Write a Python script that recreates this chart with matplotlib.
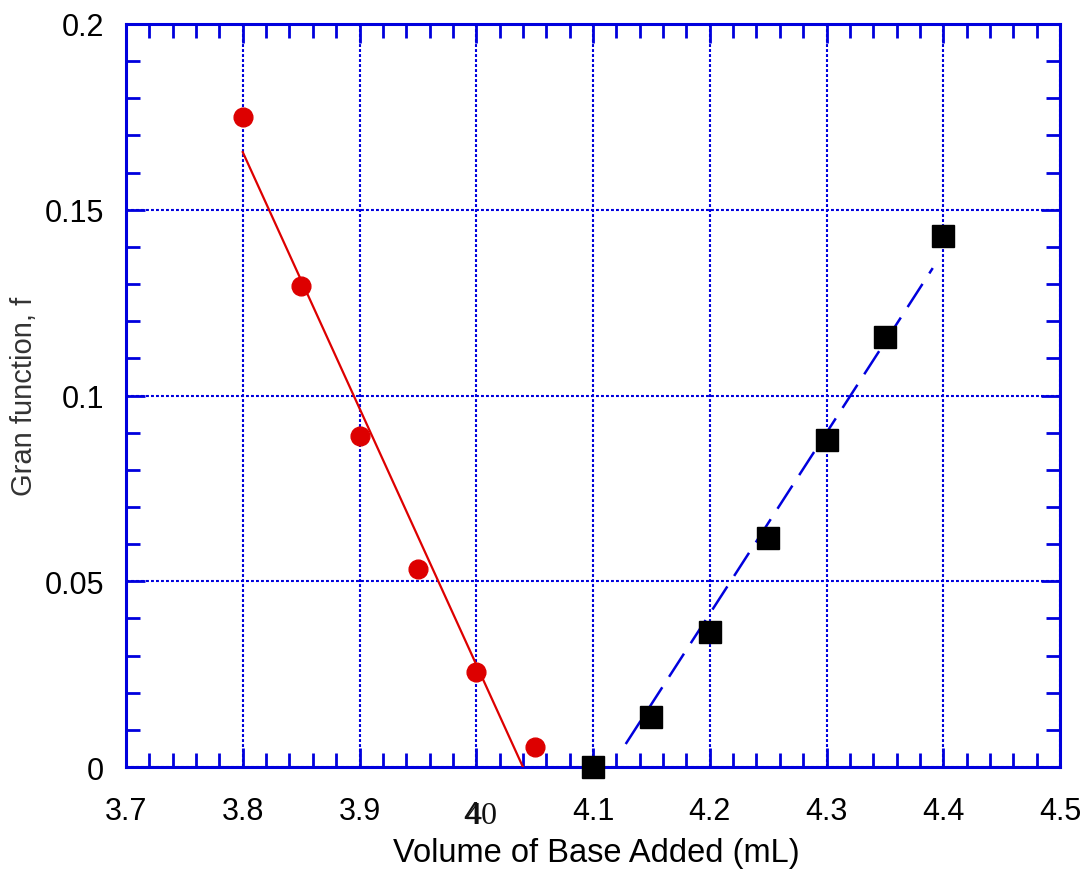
import matplotlib
matplotlib.use("Agg")
import matplotlib.pyplot as plt
from matplotlib.ticker import MultipleLocator

# data
acid_x = [3.80, 3.85, 3.90, 3.95, 4.00, 4.05]
acid_f = [0.175, 0.1295, 0.089, 0.0533, 0.0256, 0.0054]
base_x = [4.10, 4.15, 4.20, 4.25, 4.30, 4.35, 4.40]
base_f = [0.0, 0.0135, 0.0363, 0.0616, 0.088, 0.1157, 0.1429]
acid_fit_x = [3.80, 4.040]
acid_fit_f = [0.1655, 0.0]
base_fit_x = [4.128, 4.391]
base_fit_f = [0.0062, 0.1343]
xticks = [3.7, 3.8, 3.9, 4.0, 4.1, 4.2, 4.3, 4.4, 4.5]
xticklabels = ["3.7", "3.8", "3.9", "", "4.1", "4.2", "4.3", "4.4", "4.5"]
yticks = [0, 0.05, 0.1, 0.15, 0.2]
yticklabels = ["0", "0.05", "0.1", "0.15", "0.2"]

plt.rcParams['font.family'] = ['Liberation Sans', 'DejaVu Sans']
blue = '#0000dd'

fig = plt.figure(figsize=(10.92, 8.7), dpi=100)
ax = fig.add_axes([0.1154, 0.1172, 0.9707 - 0.1154, 0.9713 - 0.1172])
ax.set_xlim(3.7, 4.5)
ax.set_ylim(0, 0.2)

ax.grid(True, which='major', color=blue, linestyle=(0, (1.4, 1.0)), linewidth=1.5)
ax.set_axisbelow(True)

ax.plot(acid_fit_x, acid_fit_f, color='#dd0000', linewidth=1.6, zorder=3)
ax.plot(base_fit_x, base_fit_f, color=blue, linewidth=1.8, dashes=(11, 5), zorder=3)
ax.plot(acid_x, acid_f, 'o', color='#dd0000', markersize=13.5, zorder=4, clip_on=False)
ax.plot(base_x, base_f, 's', color='black', markersize=16, zorder=4, clip_on=False)

ax.set_xticks(xticks)
ax.set_xticklabels(xticklabels)
ax.set_yticks(yticks)
ax.set_yticklabels(yticklabels)
ax.xaxis.set_minor_locator(MultipleLocator(0.02))
ax.yaxis.set_minor_locator(MultipleLocator(0.01))
ax.tick_params(which='both', direction='in', top=True, right=True, color=blue,
               width=2, labelsize=22)
ax.tick_params(which='major', length=14)
ax.tick_params(which='minor', length=10)
ax.tick_params(axis='x', which='major', pad=21)
ax.tick_params(axis='y', which='major', pad=16)
for s in ax.spines.values():
    s.set_color(blue)
    s.set_linewidth(2.2)

# the overlapped "4.0" label (sans "4" over serif "40")
ax.annotate("40", xy=(4.0, 0), xycoords='data', xytext=(5, -34), textcoords='offset pixels',
            ha='center', va='top', fontsize=23, family='Liberation Serif', color='#111111',
            annotation_clip=False)
ax.annotate("4", xy=(4.0, 0), xycoords='data', xytext=(-5, -33), textcoords='offset pixels',
            ha='center', va='top', fontsize=22, color='#111111', annotation_clip=False)

fig.text(596 / 1092, 1 - 862 / 870, "Volume of Base Added (mL)", fontsize=23.5,
         ha='center', va='baseline', color='black')
fig.text(24 / 1092, 1 - 396 / 870, "Gran function, f", fontsize=21, rotation=90,
         ha='center', va='center', color='#333333')

fig.savefig("out.png", dpi=100)
